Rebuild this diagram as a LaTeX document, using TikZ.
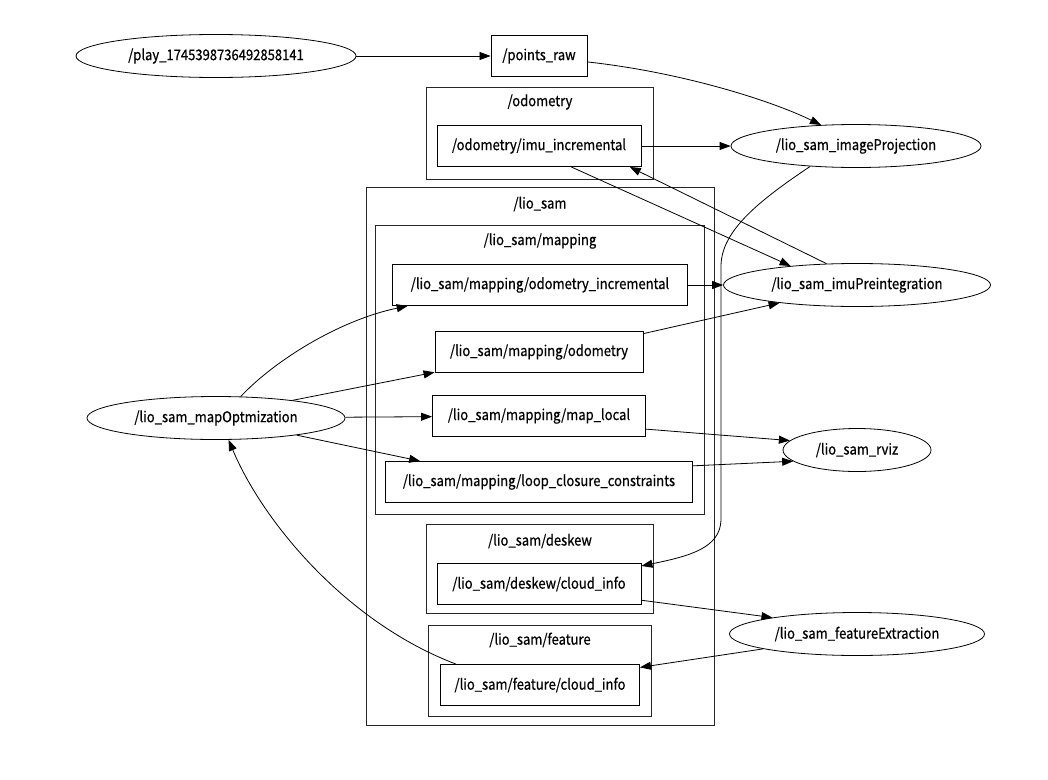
\documentclass[tikz,border=0pt]{standalone}
\usepackage{fontspec}
\setmainfont{Noto Sans CJK SC}
\newfontfamily\gvfont{Noto Sans CJK SC}[FakeStretch=0.88, FakeBold=0.6]
\usetikzlibrary{arrows.meta,shapes.geometric}
\tikzset{
  topic/.style={draw, rectangle, line width=0.9pt, inner sep=0pt, minimum height=41pt, font=\gvfont\fontsize{14.8}{16}\selectfont},
  proc/.style={draw, ellipse, line width=0.8pt, inner sep=0pt, minimum height=43pt, font=\gvfont\fontsize{14.8}{16}\selectfont},
  clus/.style={draw=black!85, line width=0.7pt},
  cluslabel/.style={inner sep=0pt, font=\gvfont\fontsize{14.8}{16}\selectfont},
  edge/.style={-{Triangle[length=11pt,width=8pt]}, line width=0.8pt},
}
\begin{document}
\begin{tikzpicture}[x=1pt,y=-1pt]
\useasboundingbox (0,0) rectangle (1048,779);
% clusters
\draw[clus] (426,87) rectangle (653,179);
\node[cluslabel] (lodom) at (540,102) {/odometry};
\draw[clus] (366,187) rectangle (714,725);
\node[cluslabel] (llio) at (540,204) {/lio\_sam};
\draw[clus] (375,225) rectangle (704,514);
\node[cluslabel] (lmap) at (540,241) {/lio\_sam/mapping};
\draw[clus] (426,524) rectangle (653,613);
\node[cluslabel] (ldesk) at (540,541) {/lio\_sam/deskew};
\draw[clus] (428,625) rectangle (651,716);
\node[cluslabel] (lfeat) at (540,640) {/lio\_sam/feature};
% process nodes
\node[proc, minimum width=280pt] (play) at (216,56) {/play\_1745398736492858141};
\node[proc, minimum width=250pt] (ip) at (856,146) {/lio\_sam\_imageProjection};
\node[proc, minimum width=267pt] (imu) at (857,285) {/lio\_sam\_imuPreintegration};
\node[proc, minimum width=148pt] (rviz) at (857,450) {/lio\_sam\_rviz};
\node[proc, minimum width=258pt] (mo) at (216,418) {/lio\_sam\_mapOptmization};
\node[proc, minimum width=255pt] (fe) at (857,634) {/lio\_sam\_featureExtraction};
% topic nodes
\node[topic, minimum width=96pt] (pr) at (539,56) {/points\_raw};
\node[topic, minimum width=204pt] (oi) at (539,146) {/odometry/imu\_incremental};
\node[topic, minimum width=295pt] (moi) at (540,285) {/lio\_sam/mapping/odometry\_incremental};
\node[topic, minimum width=208pt] (mod) at (539,352) {/lio\_sam/mapping/odometry};
\node[topic, minimum width=213pt] (ml) at (539,416) {/lio\_sam/mapping/map\_local};
\node[topic, minimum width=307pt] (lc) at (539,482) {/lio\_sam/mapping/loop\_closure\_constraints};
\node[topic, minimum width=204pt] (dc) at (539,584) {/lio\_sam/deskew/cloud\_info};
\node[topic, minimum width=199pt] (fc) at (540,685) {/lio\_sam/feature/cloud\_info};
% edges
\draw[edge] (play) -- (pr);
\draw[edge] (pr.-7) .. controls (680,72) and (770,100) .. (ip.149);
\draw[edge] (oi) -- (ip);
\draw[edge] (oi.-33) -- (imu.164);
\draw[edge] (imu.145) -- (oi.-13);
\draw[edge] (moi) -- (imu);
\draw[edge] (mod.10) -- (imu.-167);
\draw[edge] (ip.204) .. controls (760,200) and (722,230) .. (721,265) -- (721,520) .. controls (720,548) and (690,556) .. (dc.10);
\draw[edge] (mo.41) .. controls (275,360) and (340,320) .. (moi.-171);
\draw[edge] (mo.13) -- (mod.-169);
\draw[edge] (mo) -- (ml);
\draw[edge] (mo.-12) -- (lc.170);
\draw[edge] (ml.-7) -- (rviz.172);
\draw[edge] (lc.6) -- (rviz.-170);
\draw[edge] (dc.-9) -- (fe.169);
\draw[edge] (fe.-171) -- (fc.10);
\draw[edge] (fc.166) .. controls (345,622) and (262,520) .. (mo.-60);
\end{tikzpicture}
\end{document}
